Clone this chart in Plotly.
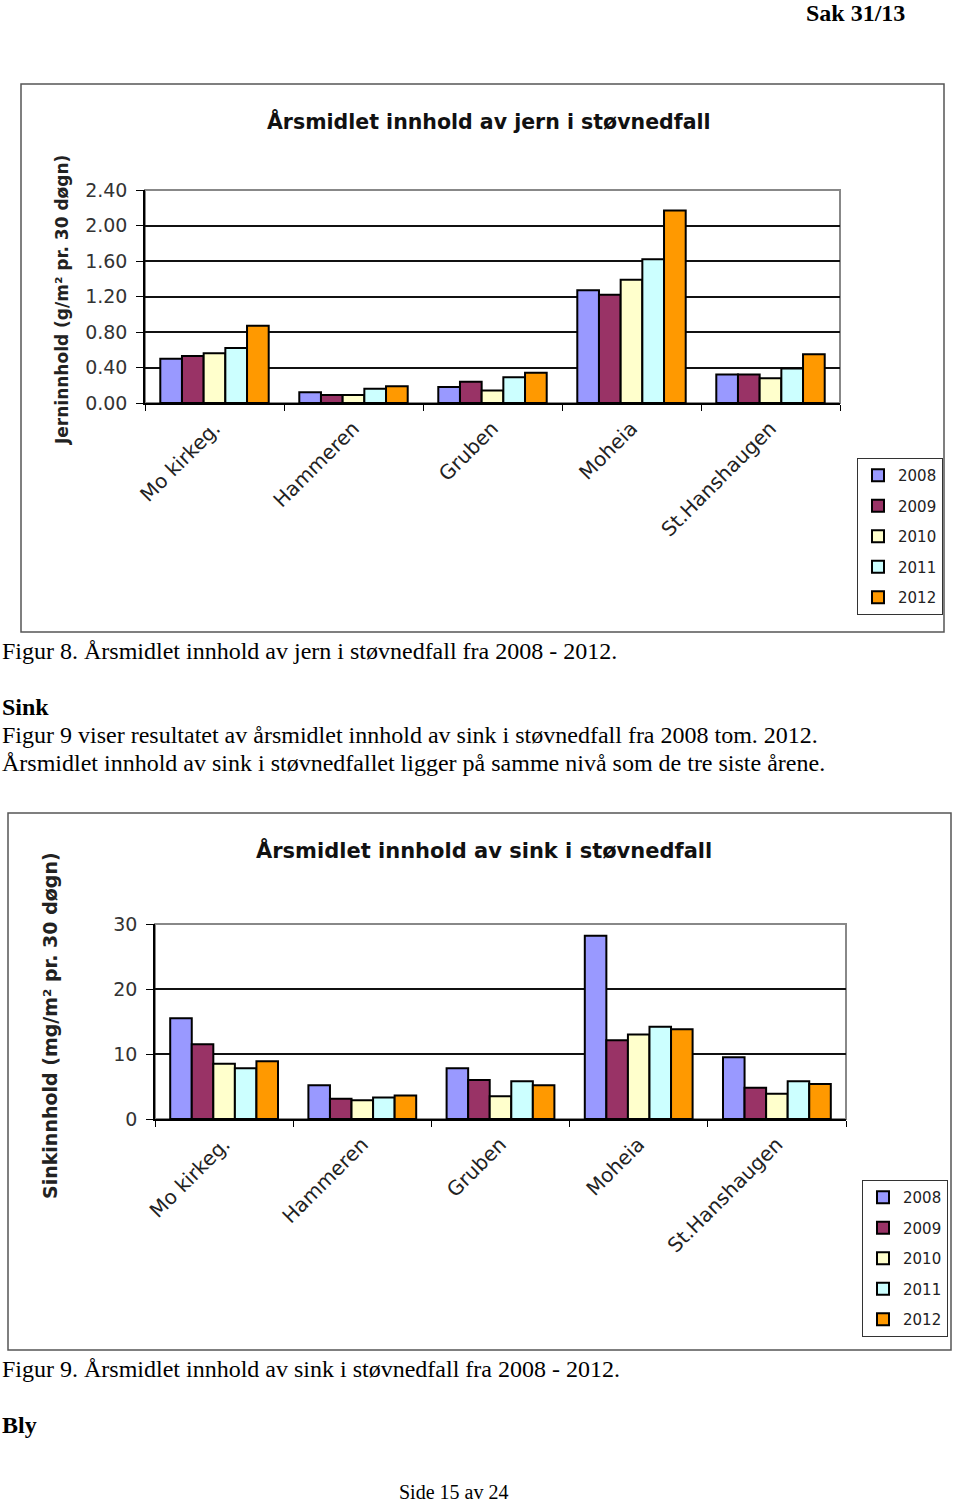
import plotly.graph_objects as go

W, H = 960, 1505

sites = ["Mo kirkeg.", "Hammeren", "Gruben", "Moheia", "St.Hanshaugen"]
years = ["2008", "2009", "2010", "2011", "2012"]
colors = ["#9999FF", "#993366", "#FFFFCC", "#CCFFFF", "#FF9900"]

# Jern (g/m2 pr. 30 døgn), by year, over sites
jern_2008 = [0.50, 0.12, 0.18, 1.27, 0.32]
jern_2009 = [0.53, 0.09, 0.24, 1.22, 0.32]
jern_2010 = [0.56, 0.09, 0.14, 1.39, 0.28]
jern_2011 = [0.62, 0.16, 0.29, 1.62, 0.39]
jern_2012 = [0.87, 0.19, 0.34, 2.17, 0.55]
jern = [jern_2008, jern_2009, jern_2010, jern_2011, jern_2012]

# Sink (mg/m2 pr. 30 døgn)
sink_2008 = [15.5, 5.2, 7.8, 28.2, 9.5]
sink_2009 = [11.5, 3.1, 6.0, 12.1, 4.8]
sink_2010 = [8.5, 2.9, 3.5, 13.0, 3.9]
sink_2011 = [7.8, 3.3, 5.8, 14.2, 5.8]
sink_2012 = [8.9, 3.6, 5.2, 13.8, 5.4]
sink = [sink_2008, sink_2009, sink_2010, sink_2011, sink_2012]

jern_ticks = [0, 0.4, 0.8, 1.2, 1.6, 2.0, 2.4]
jern_ticktext = ["0.00", "0.40", "0.80", "1.20", "1.60", "2.00", "2.40"]
sink_ticks = [0, 10, 20, 30]


def px(x):
    return x / W


def py(y):
    return 1 - y / H


fig = go.Figure()
for i, yr in enumerate(years):
    fig.add_trace(go.Bar(
        x=sites, y=jern[i], name=yr, xaxis="x", yaxis="y",
        marker=dict(color=colors[i], line=dict(color="#000000", width=2)),
        legend="legend", legendgroup="a" + yr))
for i, yr in enumerate(years):
    fig.add_trace(go.Bar(
        x=sites, y=sink[i], name=yr, xaxis="x2", yaxis="y2",
        marker=dict(color=colors[i], line=dict(color="#000000", width=2)),
        legend="legend2", legendgroup="b" + yr))

sans = "DejaVu Sans, Verdana, sans-serif"
serif = "Liberation Serif, Times New Roman, serif"

xcommon = dict(
    type="category", showline=True, linecolor="#000000", linewidth=1.5,
    ticks="outside", tickson="boundaries", ticklen=6, tickcolor="#000000",
    tickangle=-45, tickfont=dict(family=sans, size=20, color="#222222"),
    ticklabelstandoff=4, showgrid=False,
)
ycommon = dict(
    showline=True, linecolor="#000000", linewidth=1.5,
    ticks="outside", ticklen=7, tickcolor="#000000", ticklabelstandoff=5,
    showgrid=True, gridcolor="#111111", gridwidth=1.5, zeroline=False,
)

legcommon = dict(xanchor="left", yanchor="top",
                 bordercolor="#333333", borderwidth=1, bgcolor="white",
                 font=dict(family=sans, size=15, color="#222222"),
                 tracegroupgap=8, itemwidth=30)

fig.update_layout(
    width=W, height=H,
    margin=dict(l=0, r=0, t=0, b=0, autoexpand=False),
    paper_bgcolor="white", plot_bgcolor="white",
    barmode="group", bargap=0.22, bargroupgap=0,
    xaxis=dict(domain=[px(145), px(840)], anchor="y", **xcommon),
    yaxis=dict(domain=[py(403), py(190)], anchor="x", range=[0, 2.4],
               tickvals=jern_ticks, ticktext=jern_ticktext,
               tickfont=dict(family=sans, size=19, color="#333333"), **ycommon),
    xaxis2=dict(domain=[px(155), px(846)], anchor="y2", **xcommon),
    yaxis2=dict(domain=[py(1119), py(924)], anchor="x2", range=[0, 30],
                tickvals=sink_ticks,
                tickfont=dict(family=sans, size=19, color="#333333"), **ycommon),
    legend=dict(x=px(857), y=py(458), **legcommon),
    legend2=dict(x=px(862), y=py(1180), **legcommon),
    showlegend=True,
)

shapes = []
# chart frames
shapes.append(dict(type="rect", xref="paper", yref="paper",
                   x0=px(21), x1=px(944), y0=py(632), y1=py(84),
                   line=dict(color="#555555", width=1.5), layer="below"))
shapes.append(dict(type="rect", xref="paper", yref="paper",
                   x0=px(8), x1=px(951), y0=py(1350), y1=py(813),
                   line=dict(color="#555555", width=1.5), layer="below"))
# plot area borders (gray)
shapes.append(dict(type="rect", xref="x domain", yref="y domain",
                   x0=0, x1=1, y0=0, y1=1,
                   line=dict(color="#888888", width=2), layer="below"))
shapes.append(dict(type="rect", xref="x2 domain", yref="y2 domain",
                   x0=0, x1=1, y0=0, y1=1,
                   line=dict(color="#888888", width=2), layer="below"))
fig.update_layout(shapes=shapes)

ann = []


def text(x, y, s, size=24, family=serif, xanchor="left", color="#000000", angle=0):
    ann.append(dict(x=px(x), y=py(y), xref="paper", yref="paper", text=s,
                    showarrow=False, xanchor=xanchor, yanchor="middle",
                    textangle=angle,
                    font=dict(family=family, size=size, color=color)))


text(907, 13, "<b>Sak 31/13</b>", size=24, xanchor="right")
text(489, 121, "<b>Årsmidlet innhold av jern i støvnedfall</b>", size=20.5,
     family=sans, xanchor="center", color="#111111")
text(62, 300, "<b>Jerninnhold (g/m² pr. 30 døgn)</b>", size=17, family=sans,
     xanchor="center", color="#222222", angle=-90)
text(0, 651, "Figur 8. Årsmidlet innhold av jern i støvnedfall fra 2008 - 2012.")
text(0, 707, "<b>Sink</b>")
text(0, 735, "Figur 9 viser resultatet av årsmidlet innhold av sink i støvnedfall fra 2008 tom. 2012.")
text(0, 763, "Årsmidlet innhold av sink i støvnedfallet ligger på samme nivå som de tre siste årene.")
text(484, 850, "<b>Årsmidlet innhold av sink i støvnedfall</b>", size=21,
     family=sans, xanchor="center", color="#111111")
text(50, 1026, "<b>Sinkinnhold (mg/m² pr. 30 døgn)</b>", size=19, family=sans,
     xanchor="center", color="#222222", angle=-90)
text(0, 1369, "Figur 9. Årsmidlet innhold av sink i støvnedfall fra 2008 - 2012.")
text(0, 1425, "<b>Bly</b>")
text(453, 1492, "Side 15 av 24", size=20, xanchor="center")
fig.update_layout(annotations=ann)

fig.write_html("out.html", config={"displayModeBar": False},
               post_script="document.body.style.margin='0px';")
